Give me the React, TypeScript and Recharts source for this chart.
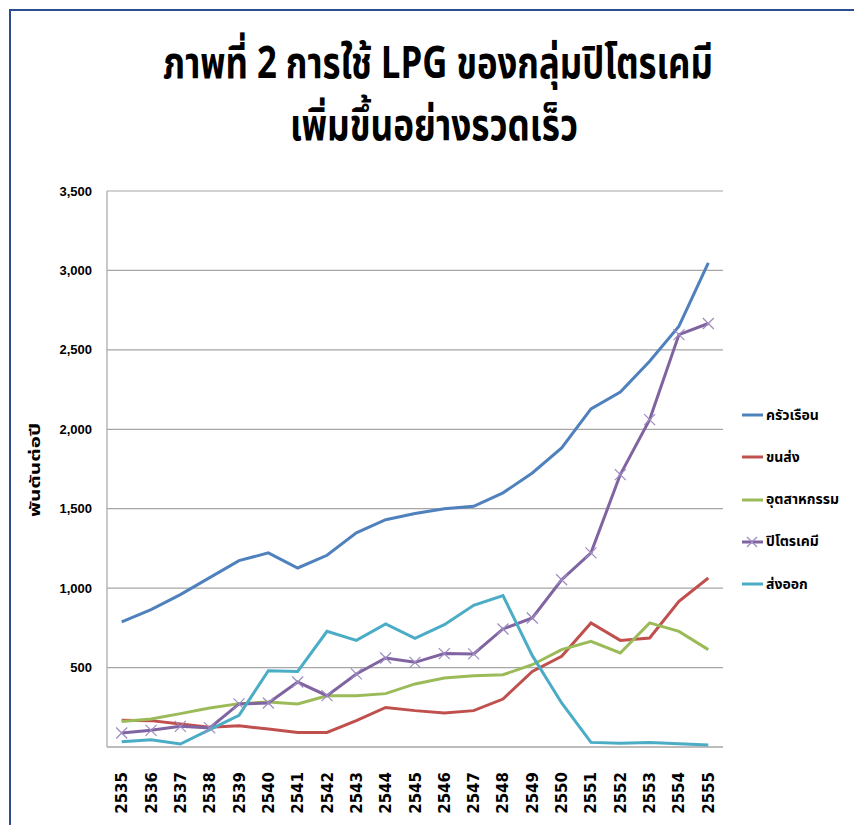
import React, { useLayoutEffect, useRef, useState } from "react";
import { LineChart, Line, XAxis, YAxis, CartesianGrid } from "recharts";

// ปี พ.ศ.
const years = [
  "2535", "2536", "2537", "2538", "2539", "2540", "2541", "2542", "2543", "2544",
  "2545", "2546", "2547", "2548", "2549", "2550", "2551", "2552", "2553", "2554", "2555",
];

// พันตันต่อปี
const household = [787, 865, 959, 1066, 1173, 1222, 1127, 1207, 1348, 1431, 1470, 1500, 1515, 1600, 1725, 1883, 2128, 2235, 2428, 2649, 3048];
const transport = [168, 166, 145, 124, 134, 113, 92, 92, 166, 249, 229, 214, 229, 302, 476, 571, 781, 671, 686, 917, 1064];
const industry = [161, 176, 210, 246, 273, 283, 271, 323, 323, 336, 397, 434, 449, 455, 518, 613, 665, 592, 781, 728, 613];
const petrochem = [88, 105, 130, 120, 271, 277, 409, 323, 460, 560, 533, 588, 586, 743, 812, 1053, 1222, 1715, 2061, 2596, 2666];
const exports = [33, 46, 19, 109, 199, 480, 476, 728, 671, 775, 684, 770, 892, 953, 575, 277, 29, 23, 29, 21, 13];

const yTicks = [0, 500, 1000, 1500, 2000, 2500, 3000, 3500];

const series = [
  { key: "household", name: "ครัวเรือน", color: "#4F81BD", values: household, cross: false },
  { key: "transport", name: "ขนส่ง", color: "#C0504D", values: transport, cross: false },
  { key: "industry", name: "อุตสาหกรรม", color: "#9BBB59", values: industry, cross: false },
  { key: "petrochem", name: "ปิโตรเคมี", color: "#8064A2", values: petrochem, cross: true },
  { key: "exports", name: "ส่งออก", color: "#4BACC6", values: exports, cross: false },
];

const data = years.map((year, i) => {
  const row: any = { year };
  series.forEach((s) => (row[s.key] = s.values[i]));
  return row;
});

const THAI_FONT = "Tahoma, 'Noto Sans Thai', 'Noto Sans', sans-serif";

// ข้อความที่บีบแนวนอนให้ได้ความกว้างตามต้องการ (ฟอนต์ต้นฉบับเป็นแบบแคบ)
function NarrowText({ cx, y, width, size, rotate, children }: any) {
  const ref = useRef<SVGTextElement>(null);
  const [k, setK] = useState(1);
  useLayoutEffect(() => {
    if (ref.current) {
      const w = ref.current.getComputedTextLength();
      if (w > 0) setK(width / w);
    }
  }, [width]);
  const rot = rotate ? ` rotate(${rotate})` : "";
  return (
    <g transform={`translate(${cx},${y})${rot} scale(${k},1)`}>
      <text ref={ref} x={0} y={0} textAnchor="middle" style={{ fontFamily: THAI_FONT, fontWeight: 700, fontSize: size }}>
        {children}
      </text>
    </g>
  );
}

// เครื่องหมายกากบาทของเส้นปิโตรเคมี
function CrossDot(props: any) {
  const { cx, cy } = props;
  if (cx == null || cy == null) return null;
  const r = 5.5;
  return (
    <g>
      <line x1={cx - r} y1={cy - r} x2={cx + r} y2={cy + r} stroke="#9d8bc0" strokeWidth={1.2} />
      <line x1={cx - r} y1={cy + r} x2={cx + r} y2={cy - r} stroke="#9d8bc0" strokeWidth={1.2} />
    </g>
  );
}

function YearTick(props: any) {
  const { x, y, payload } = props;
  return (
    <g transform={`translate(${x},${y})`}>
      <text
        transform="rotate(-90)"
        x={-23}
        y={5.5}
        textAnchor="end"
        fill="#000"
        style={{ fontFamily: "'DejaVu Sans', sans-serif", fontWeight: 700, fontSize: 15 }}
      >
        {payload.value}
      </text>
    </g>
  );
}

export default function App() {
  return (
    <div style={{ position: "absolute", left: 0, top: 0, width: 854, height: 825, background: "#fff", overflow: "hidden" }}>
      {/* กรอบ */}
      <div
        style={{
          position: "absolute",
          left: 9,
          top: 9,
          width: 900,
          height: 900,
          borderTop: "2px solid #2c4d8e",
          borderLeft: "2px solid #2c4d8e",
        }}
      />

      {/* ชื่อแผนภูมิ + ชื่อแกน */}
      <svg width={854} height={825} style={{ position: "absolute", left: 0, top: 0, overflow: "visible" }}>
        <NarrowText cx={438} y={78} width={550} size={44}>
          ภาพที่ 2 การใช้ LPG ของกลุ่มปิโตรเคมี
        </NarrowText>
        <NarrowText cx={434} y={140} width={288} size={44}>
          เพิ่มขึ้นอย่างรวดเร็ว
        </NarrowText>
        <NarrowText cx={40} y={470} width={94} size={14} rotate={-90}>
          พันตันต่อปี
        </NarrowText>
      </svg>

      <div style={{ position: "absolute", left: 0, top: 0 }}>
        <LineChart width={854} height={825} data={data} margin={{ top: 191, right: 131, left: 47, bottom: 8 }}>
          <CartesianGrid vertical={false} stroke="#a6a6a6" strokeWidth={1.2} />
          <XAxis
            dataKey="year"
            height={70}
            interval={0}
            padding={{ left: 14.7, right: 14.7 }}
            axisLine={{ stroke: "#a6a6a6", strokeWidth: 1.2 }}
            tickLine={false}
            tickSize={0}
            tick={<YearTick />}
          />
          <YAxis
            width={60}
            domain={[0, 3500]}
            ticks={yTicks}
            interval={0}
            axisLine={{ stroke: "#a6a6a6", strokeWidth: 1.2 }}
            tickLine={false}
            tickSize={0}
            tickMargin={15}
            tickFormatter={(v: number) => (v === 0 ? "" : v.toLocaleString("en-US"))}
            tick={{
              fill: "#000",
              fontSize: 13,
              fontWeight: 700,
              fontFamily: "'Liberation Sans Narrow', 'Arial Narrow', sans-serif",
            }}
          />
          {series.map((s) => (
            <Line
              key={s.key}
              dataKey={s.key}
              name={s.name}
              type="linear"
              stroke={s.color}
              strokeWidth={3}
              dot={s.cross ? <CrossDot /> : false}
              activeDot={false}
              isAnimationActive={false}
            />
          ))}
        </LineChart>
      </div>

      {/* คำอธิบายสัญลักษณ์ */}
      {series.map((s, i) => (
        <div
          key={s.key}
          style={{
            position: "absolute",
            left: 741,
            top: 415 + i * 42.3 - 10,
            height: 20,
            display: "flex",
            alignItems: "center",
          }}
        >
          <svg width={23} height={20}>
            <line x1={1} y1={10} x2={22} y2={10} stroke={s.color} strokeWidth={3} />
            {s.cross && (
              <g>
                <line x1={6} y1={5} x2={16} y2={15} stroke="#9d8bc0" strokeWidth={1.2} />
                <line x1={6} y1={15} x2={16} y2={5} stroke="#9d8bc0" strokeWidth={1.2} />
              </g>
            )}
          </svg>
          <span style={{ fontFamily: THAI_FONT, fontWeight: 700, fontSize: 14, marginLeft: 2, color: "#000" }}>
            {s.name}
          </span>
        </div>
      ))}
    </div>
  );
}
